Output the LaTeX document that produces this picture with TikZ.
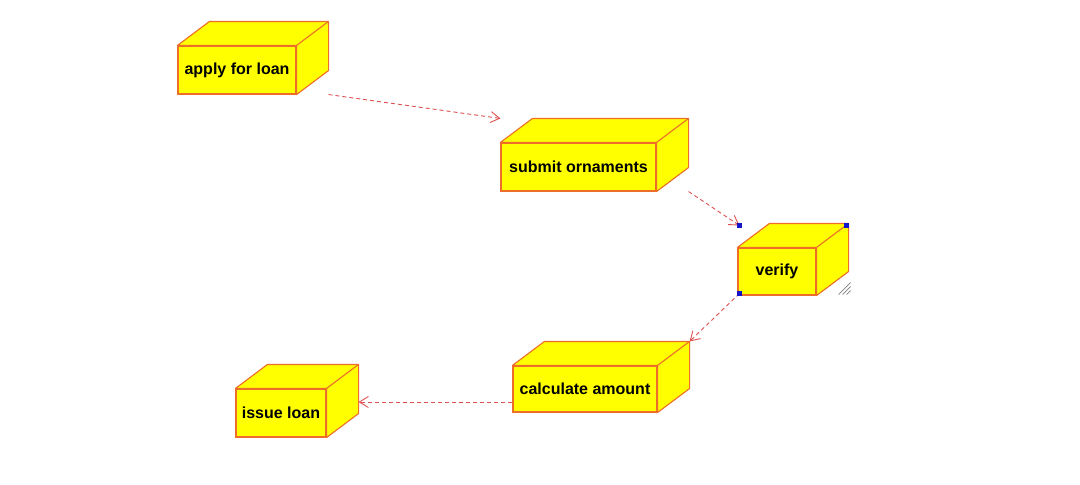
\documentclass[tikz,border=0pt]{standalone}
\usepackage{fontspec}
\setmainfont{Liberation Sans}
\usetikzlibrary{arrows.meta,calc}

\definecolor{boxfill}{RGB}{255,255,0}
\definecolor{boxline}{RGB}{236,110,40}
\definecolor{flowline}{RGB}{222,80,80}
\definecolor{handle}{RGB}{20,20,200}

\tikzset{
    front/.style={draw=boxline, fill=boxfill, line width=1.1pt, inner sep=0pt,
        font=\fontsize{16}{19}\selectfont\bfseries},
    face/.style={draw=boxline, fill=boxfill, line width=1.1pt, line join=round},
    flow/.style={draw=flowline, dashed, dash pattern=on 4pt off 3pt, line width=0.9pt,
        -{Straight Barb[length=9pt, width=11pt, line width=0.9pt]}},
}

\begin{document}
\begin{tikzpicture}[x=1pt, y=-1pt]

    \useasboundingbox[fill=white] (0,0) rectangle (1080,485);

    % Depth of the boxes
    \def\dx{32}
    \def\dy{24}

    % Front faces of the boxes
    \node[front, minimum width=118pt, minimum height=48pt] (apply)  at (237,70)    {apply for loan};
    \node[front, minimum width=155pt, minimum height=48pt] (submit) at (578.5,167) {submit ornaments};
    \node[front, minimum width=78pt,  minimum height=47pt] (verify) at (777,271.5) {verify};
    \node[front, minimum width=144pt, minimum height=46pt] (calc)   at (585,389)   {calculate amount};
    \node[front, minimum width=90pt,  minimum height=48pt] (issue)  at (281,413)   {issue loan};

    % Top and side faces
    \foreach \n in {apply,submit,verify,calc,issue} {
        \filldraw[face] (\n.north west) -- ++(\dx,-\dy) -- ($(\n.north east)+(\dx,-\dy)$)
            -- ($(\n.south east)+(\dx,-\dy)$) -- (\n.south east) -- (\n.north east) -- cycle;
        \draw[face] (\n.north east) -- ++(\dx,-\dy);
    }

    % Corners where the connectors meet the boxes
    \coordinate (apply-out)  at ($(apply.south east)+(\dx,0)$);
    \coordinate (submit-in)  at ($(submit.north west)+(0,-\dy)$);
    \coordinate (submit-out) at ($(submit.south east)+(\dx,0)$);
    \coordinate (verify-in)  at ($(verify.north west)+(2,-\dy+2)$);
    \coordinate (verify-out) at ($(verify.south west)+(2,-2)$);
    \coordinate (calc-in)    at ($(calc.north east)+(\dx,-\dy)$);
    \coordinate (calc-out)   at ($(calc.west)+(0,13)$);
    \coordinate (issue-in)   at ($(issue.east)+(\dx,-11)$);

    % Dependencies
    \draw[flow] (apply-out)  -- (submit-in);
    \draw[flow] (submit-out) -- (verify-in);
    \draw[flow] (verify-out) -- (calc-in);
    \draw[flow] (calc-out)   -- (issue-in);

    % Selection handles on verify
    \coordinate (verify-ne) at ($(verify.north east)+(\dx-2,-\dy+2)$);
    \foreach \p in {verify-in, verify-out, verify-ne} {
        \fill[handle] (\p) ++(-2.5,-2.5) rectangle ++(5,5);
    }
    \foreach \k in {0,4,8} {
        \draw[gray, line width=0.7pt] ($(verify.south east)+(\dx-10+\k,-1)$) -- ++(12-\k,-12+\k);
    }

\end{tikzpicture}
\end{document}
